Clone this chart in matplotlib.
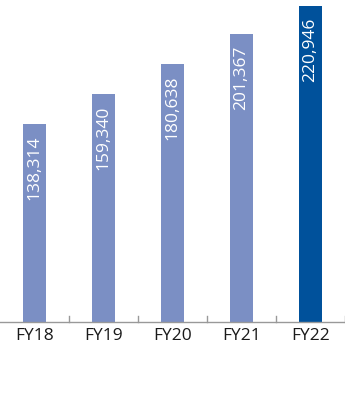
import matplotlib
matplotlib.use('Agg')
import matplotlib.pyplot as plt
import numpy as np

years = ['FY18', 'FY19', 'FY20', 'FY21', 'FY22']
values = [138314, 159340, 180638, 201367, 220946]
colors = ['#7b8fc4', '#7b8fc4', '#7b8fc4', '#7b8fc4', '#00519b']

plt.rcParams['font.family'] = ['Open Sans', 'DejaVu Sans']

fig = plt.figure(figsize=(3.45, 3.99), dpi=100)
ax = fig.add_axes([0, 77 / 399, 1, 322 / 399])

x = np.arange(len(years))
ax.bar(x, values, width=0.32, color=colors)

for xi, v in zip(x, values):
    ax.text(xi, v - 225141 * 0.036, f'{v:,}', rotation=90, ha='center', va='top',
            color='white', fontsize=12.5)

ax.set_xlim(-0.5, len(years) - 0.5)
ax.set_ylim(0, 225141)
ax.set_yticks([])
ax.set_xticks(x)
ax.set_xticklabels(years, fontsize=12.5, color='#1a1a1a')
ax.tick_params(axis='x', length=0, pad=4)
for xb in np.arange(0.5, len(years), 1.0):
    ax.plot([xb, xb], [0, 225141 * 0.018], color='#999999', lw=1, clip_on=False)

for s in ['top', 'left', 'right']:
    ax.spines[s].set_visible(False)
ax.spines['bottom'].set_color('#999999')
ax.spines['bottom'].set_linewidth(1)

fig.savefig('out.png', dpi=100)
